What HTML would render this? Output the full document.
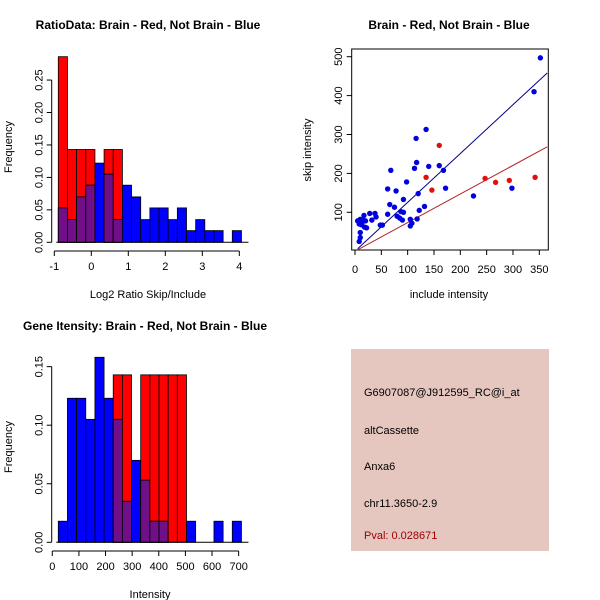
<!DOCTYPE html>
<html><head><meta charset="utf-8"><style>
body{margin:0;background:#fff;width:600px;height:600px;overflow:hidden}
svg{font-family:"Liberation Sans",sans-serif;display:block}
</style></head><body>
<svg id="s" width="600" height="600" viewBox="0 0 600 600">
<rect x="0" y="0" width="600" height="600" fill="#fff"/>
<text x="148" y="29" font-size="12" font-weight="bold" text-anchor="middle">RatioData: Brain - Red, Not Brain - Blue</text>
<text x="449" y="29" font-size="12" font-weight="bold" text-anchor="middle">Brain - Red, Not Brain - Blue</text>
<text x="145" y="330" font-size="12" font-weight="bold" text-anchor="middle">Gene Itensity: Brain - Red, Not Brain - Blue</text>
<text x="148" y="298" font-size="11" text-anchor="middle">Log2 Ratio Skip/Include</text>
<text x="12" y="147" font-size="11" text-anchor="middle" transform="rotate(-90 12 147)">Frequency</text>
<text x="449" y="298" font-size="11" text-anchor="middle">include intensity</text>
<text x="311" y="150" font-size="11" text-anchor="middle" transform="rotate(-90 311 150)">skip intensity</text>
<text x="150" y="598" font-size="11" text-anchor="middle">Intensity</text>
<text x="12" y="447" font-size="11" text-anchor="middle" transform="rotate(-90 12 447)">Frequency</text>
<g>
<rect x="351" y="349" width="198" height="202" fill="#e6c7c0"/>
<text x="364" y="396" font-size="11">G6907087@J912595_RC@i_at</text>
<text x="364" y="434" font-size="11">altCassette</text>
<text x="364" y="470" font-size="11">Anxa6</text>
<text x="364" y="507" font-size="11">chr11.3650-2.9</text>
<text x="364" y="539" font-size="11" fill="#a00000">Pval: 0.028671</text>
</g>
</svg>
<script>
// Ratio histogram data
const ratioBinStart = -0.892;
const ratioBinWidth = 0.2475;
const ratioRed = [0.286,0.143,0.143,0.143,0,0.143,0.143,0,0,0,0,0,0,0,0,0,0,0,0,0];
const ratioBlue = [0.053,0.035,0.070,0.088,0.122,0.105,0.035,0.088,0.070,0.035,0.053,0.053,0.035,0.053,0.018,0.035,0.018,0.018,0,0.018];
const ratioXTicks = [-1,0,1,2,3,4];
const ratioYTicks = ["0.00","0.05","0.10","0.15","0.20","0.25"];
// Intensity histogram data
const intBinStart = 22.5;
const intBinWidth = 34.4;
const intRed = [0,0,0,0,0,0,0.143,0.143,0,0.143,0.143,0.143,0.143,0.143,0,0,0,0,0,0];
const intBlue = [0.018,0.123,0.123,0.105,0.158,0.123,0.105,0.035,0.070,0.053,0.018,0.018,0,0,0.018,0,0,0.018,0,0.018];
const intXTicks = [0,100,200,300,400,500,600,700];
const intYTicks = ["0.00","0.05","0.10","0.15"];
// Scatter data
const blueX = [5,8,10,12,14,15,10,10,8,17,18,20,22,28,32,38,40,48,52,62,62,66,68,75,78,80,85,87,90,92,92,98,105,105,108,113,116,117,118,120,122,132,135,140,160,168,172,225,298,340,352];
const blueY = [78,70,82,68,75,80,48,35,25,92,62,78,60,97,80,97,88,67,67,95,160,120,208,113,155,90,85,102,80,133,100,178,82,65,72,213,290,228,83,148,105,115,313,218,220,208,162,142,162,410,497];
const redX = [135,146,160,247,267,293,342];
const redY = [190,157,272,187,177,182,190];
const blueSlope = 1.255;
const redSlope = 0.735;
const scXTicks = [0,50,100,150,200,250,300,350];
const scYTicks = [100,200,300,400,500];

const svg = document.getElementById('s');
const NS = 'http://www.w3.org/2000/svg';
function mk(tag, attrs){const e=document.createElementNS(NS,tag);for(const k in attrs)e.setAttribute(k,attrs[k]);svg.appendChild(e);return e;}

function histogram(prefix, binStart, binW, red, blue, xTicks, yTicks, xs, ys, baseY, axisX, axisY, xMin, xMax){
  for(let i=0;i<red.length;i++){
    const x0=xs(binStart+i*binW), x1=xs(binStart+(i+1)*binW);
    const r=red[i], b=blue[i], m=Math.min(r,b);
    if(r>0){const e=mk('rect',{x:x0,y:ys(r),width:x1-x0,height:baseY-ys(r),fill:'#ff0000',stroke:'#000','stroke-width':0.8});
      
      }
    if(b>0){const e=mk('rect',{x:x0,y:ys(b),width:x1-x0,height:baseY-ys(b),fill:(b>r?'#0000ff':'#ff0000'),stroke:'#000','stroke-width':0.8});
      
      
      if(b>r && r>0){/* red drawn below shows purple region */}}
    if(m>0){const e=mk('rect',{x:x0,y:ys(m),width:x1-x0,height:baseY-ys(m),fill:'#700f88',stroke:'#000','stroke-width':0.8});
      
      }
  }
  // baseline
  const bl=mk('line',{x1:xs(binStart)-2,x2:xs(binStart+red.length*binW)+7,y1:baseY,y2:baseY,stroke:'#000'});
  
  
  const xa=mk('line',{x1:xs(xMin),x2:xs(xMax),y1:axisY,y2:axisY,stroke:'#000'});
  
  
  xTicks.forEach(t=>{
    const l=mk('line',{x1:xs(t),x2:xs(t),y1:axisY,y2:axisY+5,stroke:'#000'});
    
    
    const tx=mk('text',{x:xs(t),y:axisY+19,'font-size':11,'text-anchor':'middle'});tx.textContent=t;
    
    
  });
  const ya=mk('line',{x1:axisX,x2:axisX,y1:ys(0),y2:ys(parseFloat(yTicks[yTicks.length-1])),stroke:'#000'});
  
  
  yTicks.forEach(t=>{
    const y=ys(parseFloat(t));
    const l=mk('line',{x1:axisX-5,x2:axisX,y1:y,y2:y,stroke:'#000'});
    
    
    const tx=mk('text',{x:axisX-9,y:y,'font-size':11,'text-anchor':'middle',transform:`rotate(-90 ${axisX-9} ${y})`});tx.textContent=t;
    
    
  });
}
// ratio histogram
histogram('ratio', ratioBinStart, ratioBinWidth, ratioRed, ratioBlue, ratioXTicks, ratioYTicks,
  v=>54.3+(v+1)*37, v=>242.3-v*649, 242.3, 51.7, 251, -1, 4);
// intensity histogram
histogram('intensity', intBinStart, intBinWidth, intRed, intBlue, intXTicks, intYTicks,
  v=>52.3+v*0.2662, v=>542.3-v*1171, 542.3, 51.7, 551, 0, 700);

// scatter
const sx=v=>355+v*0.5266, sy=v=>251.2-v*0.389;
const box=mk('rect',{x:351.7,y:49,width:196.6,height:201,fill:'none',stroke:'#000'});


scXTicks.forEach(t=>{
  const l=mk('line',{x1:sx(t),x2:sx(t),y1:250,y2:255,stroke:'#000'});
  
  
  const tx=mk('text',{x:sx(t),y:273,'font-size':11,'text-anchor':'middle'});tx.textContent=t;
  
  
});
scYTicks.forEach(t=>{
  const y=sy(t);
  const l=mk('line',{x1:346.7,x2:351.7,y1:y,y2:y,stroke:'#000'});
  
  
  const tx=mk('text',{x:342,y:y,'font-size':11,'text-anchor':'middle',transform:`rotate(-90 342 ${y})`});tx.textContent=t;
  
  
});
const xEnd=365;
const bln=mk('line',{x1:sx(5),y1:sy(5*blueSlope),x2:sx(xEnd),y2:sy(xEnd*blueSlope),stroke:'#00008b'});


const rln=mk('line',{x1:sx(5),y1:sy(5*redSlope),x2:sx(xEnd),y2:sy(xEnd*redSlope),stroke:'#b22222'});


blueX.forEach((x,i)=>{
  const c=mk('circle',{cx:sx(x),cy:sy(blueY[i]),r:2.7,fill:'#0000e0'});
  
  
});
redX.forEach((x,i)=>{
  const c=mk('circle',{cx:sx(x),cy:sy(redY[i]),r:2.7,fill:'#e01010'});
  
  
});
</script>
</body></html>
